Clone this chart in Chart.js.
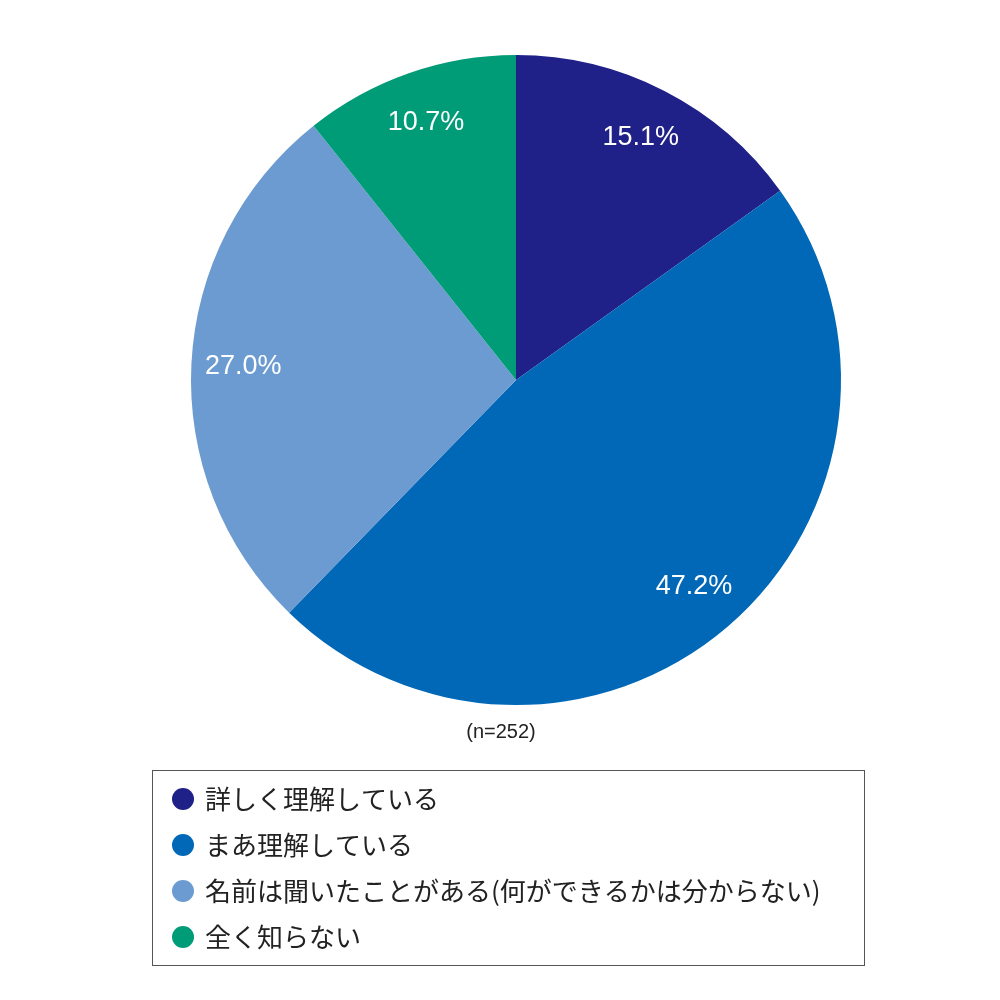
<!DOCTYPE html>
<html lang="ja">
<head>
<meta charset="utf-8">
<style>
  html, body { margin: 0; padding: 0; background: #fff; }
  #wrap { width: 1000px; height: 1000px; }
</style>
</head>
<body>
<div id="wrap"><canvas id="myChart" width="1000" height="1000"></canvas></div>

<script src="https://cdn.jsdelivr.net/npm/chart.js"></script>
<script>
    var labels = [
        '詳しく理解している',
        'まあ理解している',
        '名前は聞いたことがある(何ができるかは分からない)',
        '全く知らない'
    ];
    var values = [15.1, 47.2, 27.0, 10.7];
    var colors = ['#1f2088', '#0068b7', '#6b9bd1', '#009b77'];
    var sampleNote = '(n=252)';

    // percentage labels inside slices
    var sliceLabels = {
        id: 'sliceLabels',
        afterDatasetsDraw: function (chart) {
            var ctx = chart.ctx;
            var meta = chart.getDatasetMeta(0);
            ctx.save();
            ctx.fillStyle = '#ffffff';
            ctx.font = '27px "Liberation Sans", Arial, sans-serif';
            ctx.textAlign = 'center';
            ctx.textBaseline = 'middle';
            meta.data.forEach(function (arc, i) {
                var mid = (arc.startAngle + arc.endAngle) / 2;
                var r = arc.outerRadius * 0.84;
                ctx.fillText(values[i].toFixed(1) + '%', arc.x + Math.cos(mid) * r, arc.y + Math.sin(mid) * r);
            });
            ctx.restore();
        }
    };

    // n note + boxed legend under the pie
    var boxLegend = {
        id: 'boxLegend',
        afterDraw: function (chart) {
            var ctx = chart.ctx;
            ctx.save();
            ctx.fillStyle = '#222';
            ctx.font = '20px "Liberation Sans", Arial, sans-serif';
            ctx.textAlign = 'center';
            ctx.textBaseline = 'middle';
            ctx.fillText(sampleNote, 501, 732);

            ctx.strokeStyle = '#555';
            ctx.lineWidth = 1;
            ctx.strokeRect(152.5, 770.5, 712, 195);

            ctx.textAlign = 'left';
            ctx.font = '26px "Noto Sans CJK JP", sans-serif';
            labels.forEach(function (lab, i) {
                var y = 799 + i * 46;
                ctx.fillStyle = colors[i];
                ctx.beginPath();
                ctx.arc(183, y, 11, 0, Math.PI * 2);
                ctx.fill();
                ctx.fillStyle = '#222';
                ctx.fillText(lab, 205, y);
            });
            ctx.restore();
        }
    };

    var data = {
        labels: labels,
        datasets: [{
            data: values,
            backgroundColor: colors,
            borderWidth: 0
        }]
    };

    var config = {
        type: 'pie',
        data: data,
        options: {
            responsive: false,
            animation: false,
            layout: {
                padding: { left: 191, right: 159, top: 55, bottom: 295 }
            },
            plugins: {
                legend: { display: false },
                tooltip: { enabled: false }
            }
        },
        plugins: [sliceLabels, boxLegend]
    };

    var myChart = new Chart(document.getElementById('myChart'), config);
</script>
</body>
</html>
